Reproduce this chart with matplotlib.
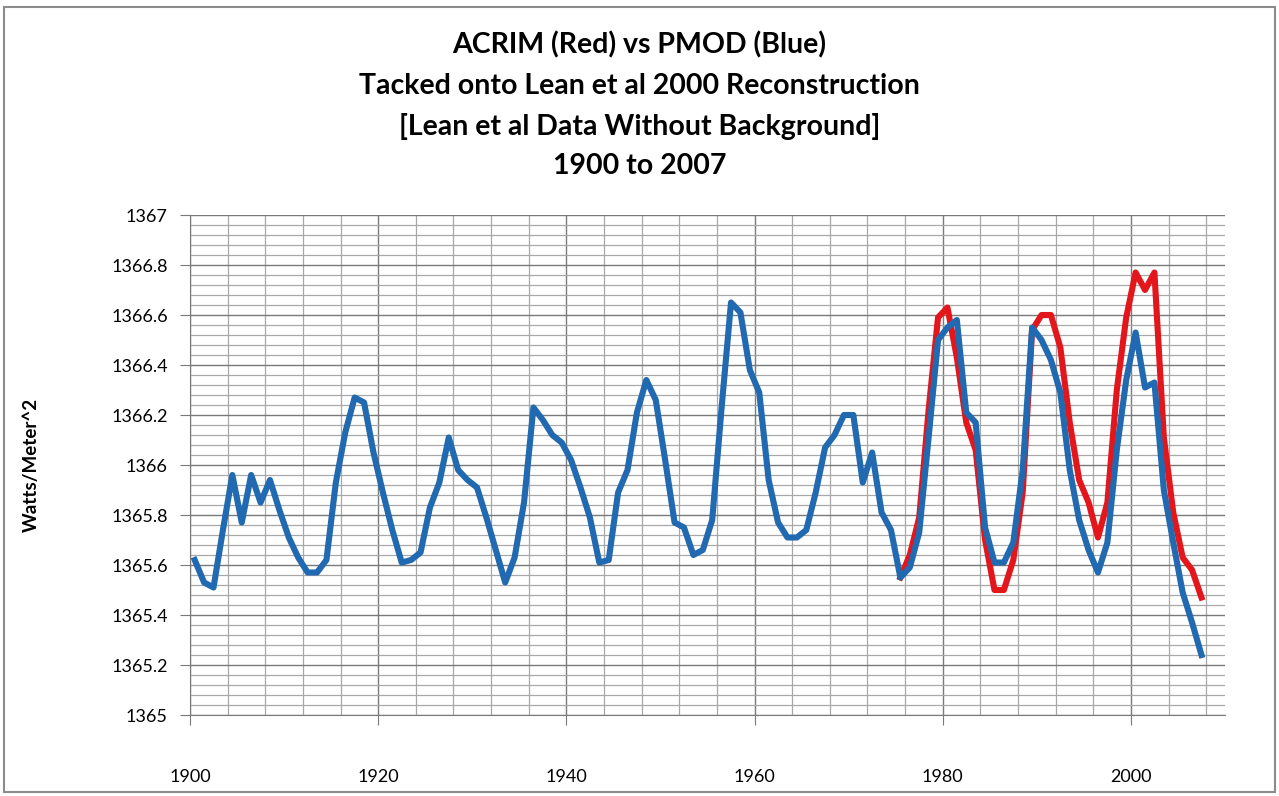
import numpy as np
import matplotlib.pyplot as plt
from matplotlib.ticker import MultipleLocator, FuncFormatter
from matplotlib.patches import Rectangle

# --- data (annual means, plotted at mid-year) ---
years = np.arange(1900, 2008)
pmod = [1365.62, 1365.53, 1365.51, 1365.74, 1365.96, 1365.77, 1365.96, 1365.85, 1365.94, 1365.82,
        1365.71, 1365.63, 1365.57, 1365.57, 1365.62, 1365.93, 1366.13, 1366.27, 1366.25, 1366.05,
        1365.89, 1365.74, 1365.61, 1365.62, 1365.65, 1365.83, 1365.93, 1366.11, 1365.98, 1365.94,
        1365.91, 1365.79, 1365.66, 1365.53, 1365.63, 1365.85, 1366.23, 1366.18, 1366.12, 1366.09,
        1366.02, 1365.91, 1365.79, 1365.61, 1365.62, 1365.89, 1365.98, 1366.21, 1366.34, 1366.26,
        1366.02, 1365.77, 1365.75, 1365.64, 1365.66, 1365.78, 1366.23, 1366.65, 1366.61, 1366.38,
        1366.29, 1365.94, 1365.77, 1365.71, 1365.71, 1365.74, 1365.89, 1366.07, 1366.12, 1366.20,
        1366.20, 1365.93, 1366.05, 1365.81, 1365.74, 1365.55, 1365.59, 1365.73, 1366.11, 1366.50,
        1366.55, 1366.58, 1366.21, 1366.17, 1365.75, 1365.61, 1365.61, 1365.69, 1365.98, 1366.55,
        1366.50, 1366.42, 1366.29, 1365.98, 1365.78, 1365.66, 1365.57, 1365.69, 1366.06, 1366.34,
        1366.53, 1366.31, 1366.33, 1365.90, 1365.69, 1365.49, 1365.37, 1365.24]

acrim_years = np.arange(1975, 2008)
acrim = [1365.55, 1365.64, 1365.79, 1366.22, 1366.59, 1366.63, 1366.43, 1366.17, 1366.06, 1365.70,
         1365.50, 1365.50, 1365.62, 1365.89, 1366.54, 1366.60, 1366.60, 1366.47, 1366.17, 1365.94,
         1365.85, 1365.71, 1365.85, 1366.30, 1366.59, 1366.77, 1366.70, 1366.77, 1366.11, 1365.81,
         1365.63, 1365.58, 1365.47]

title_lines = ['ACRIM (Red) vs PMOD (Blue)',
               'Tacked onto Lean et al 2000 Reconstruction',
               '[Lean et al Data Without Background]',
               '1900 to 2007']

plt.rcParams['font.family'] = ['Lato', 'DejaVu Sans']

W, H = 1279, 796
fig = plt.figure(figsize=(W/100, H/100), dpi=100)
fig.patches.append(Rectangle((4/W, 4/H), 1271/W, 785/H, transform=fig.transFigure,
                             fill=False, ec='#8c8c8c', lw=1.5))

ax = fig.add_axes([190/W, 1-715/H, 1035/W, 500/H])
ax.plot(acrim_years + 0.5, acrim, color='#e3161b', lw=4.4, solid_joinstyle='round', zorder=3)
ax.plot(years + 0.5, pmod, color='#2169b0', lw=4.4, solid_joinstyle='round', zorder=4)

ax.set_xlim(1900, 2010)
ax.set_ylim(1365, 1367)
ax.xaxis.set_major_locator(MultipleLocator(20))
ax.xaxis.set_minor_locator(MultipleLocator(4))
ax.yaxis.set_major_locator(MultipleLocator(0.2))
ax.yaxis.set_minor_locator(MultipleLocator(0.04))
ax.yaxis.set_major_formatter(FuncFormatter(lambda v, p: f'{v:.1f}'.rstrip('0').rstrip('.')))

ax.grid(which='major', color='#7a7a7a', lw=1.0)
ax.grid(which='minor', color='#a8a8a8', lw=0.9)
ax.set_axisbelow(True)
for s in ['top', 'right']:
    ax.spines[s].set_visible(False)
for s in ['left', 'bottom']:
    ax.spines[s].set_color('#7a7a7a')
ax.tick_params(which='major', direction='out', length=7, color='#7a7a7a', labelsize=13)
ax.tick_params(which='minor', length=0)
ax.tick_params(axis='x', pad=32)
ax.tick_params(axis='y', pad=9)

ax.set_ylabel('Watts/Meter^2', fontsize=13.5, fontweight='bold')
ax.yaxis.set_label_coords(-150/1035, 0.5)

for i, line in enumerate(title_lines):
    fig.text(0.5, 1 - (45 + 40.5*i)/H, line, ha='center', va='center',
             fontsize=20.5, fontweight='bold')

fig.savefig('out.png', dpi=100)
